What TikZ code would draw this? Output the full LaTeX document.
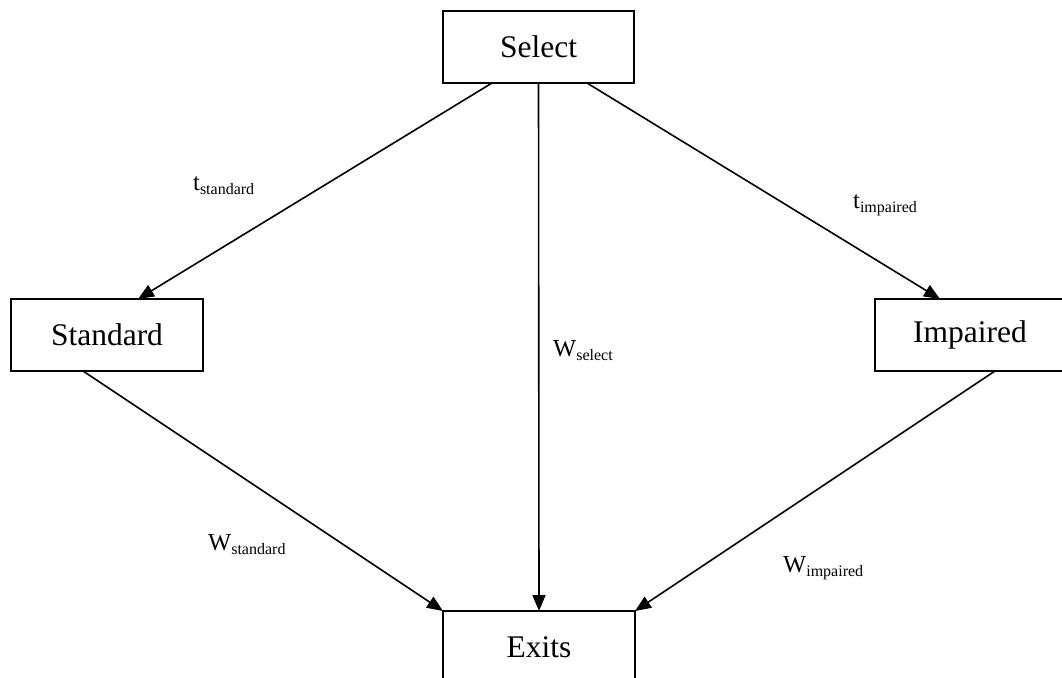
\documentclass[tikz,border=0pt]{standalone}
\usepackage{fontspec}
\setmainfont{Liberation Serif}
\usetikzlibrary{arrows.meta,calc}
\tikzset{
  box/.style={draw, line width=1.9pt, outer sep=0pt, inner sep=0pt, minimum height=72pt, font=\fontsize{31.5}{36}\selectfont},
  conn/.style={line width=1.6pt, -{Triangle[length=16pt,width=13pt]}},
  lbl/.style={anchor=base west, inner sep=0pt, font=\fontsize{24.5}{28}\selectfont}
}
\newcommand{\sbs}[1]{\raisebox{-4.5pt}{\fontsize{16}{16}\selectfont #1}}
\begin{document}
\begin{tikzpicture}[x=1pt,y=-1pt]
\useasboundingbox (0,0) rectangle (1062,677);
\node[box, minimum width=191pt] (sel) at (538.5,47) {Select};
\node[box, minimum width=192pt] (std) at (107,335) {Standard};
\node[box, minimum width=190pt] (imp) at (970,335) {Impaired};
\node[box, minimum width=192pt] (ex) at (539,647) {Exits};

\draw[conn] ([xshift=49pt]sel.south west) -- ([xshift=127pt]std.north west);
\draw[conn] (sel.south) -- (ex.north);
\draw[conn] ([xshift=-47pt]sel.south east) -- ([xshift=65pt]imp.north west);
\draw[conn] ([xshift=72pt]std.south west) -- (ex.north west);
\draw[conn] ([xshift=120pt]imp.south west) -- (ex.north east);

\node[lbl] (lts) at (193,190) {t\sbs{standard}};
\node[lbl] (lti) at (853,208) {t\sbs{impaired}};
\node[lbl] (lws) at (553,356) {W\sbs{select}};
\node[lbl] (lwst) at (208,550) {W\sbs{standard}};
\node[lbl] (lwi) at (783,572) {W\sbs{impaired}};
\end{tikzpicture}
\end{document}
